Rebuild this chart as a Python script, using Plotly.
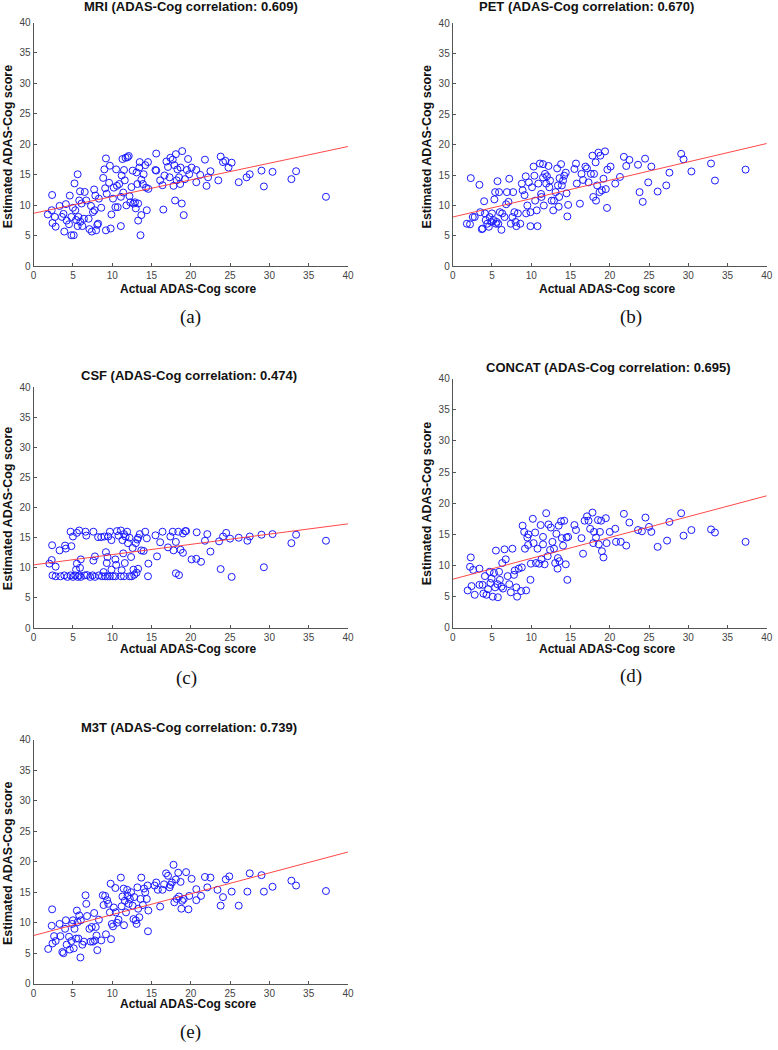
import plotly.graph_objects as go

W, H = 778, 1050

# ---------------- data ----------------
mri_x = [1.8,2.3,2.35,2.4,2.7,2.8,3.3,3.6,3.8,3.9,4.1,4.2,4.5,4.6,4.8,4.8,5.0,5.1,5.2,5.3,5.4,5.6,5.6,5.7,5.8,5.9,5.95,6.1,6.2,6.4,6.5,6.7,7.0,7.1,7.3,7.4,7.55,7.7,7.75,7.85,7.95,8.1,8.2,8.3,8.6,8.85,9.0,9.1,9.2,9.2,9.3,9.6,9.7,9.8,9.9,10.1,10.2,10.4,10.5,10.6,10.7,10.9,11.1,11.1,11.2,11.3,11.4,11.5,11.6,11.7,11.8,11.95,12.1,12.2,12.3,12.45,12.6,12.7,12.9,13.0,13.1,13.2,13.3,13.3,13.45,13.5,13.6,13.7,13.7,13.9,14.0,14.2,14.3,14.4,14.55,14.6,15.6,15.5,15.6,16.1,16.4,16.5,16.65,16.9,17.1,17.3,17.4,17.7,17.8,17.9,18.0,18.1,18.2,18.3,18.5,18.65,18.7,18.85,18.9,19.1,19.25,19.5,19.65,19.8,20.1,20.7,20.7,21.2,21.8,22.0,22.2,22.5,23.5,23.8,24.1,24.4,24.8,25.2,26.1,27.1,27.5,29.0,29.3,30.4,32.8,33.4,37.2]
mri_y = [8.5,9.2,11.7,7.1,8.1,6.5,9.9,8.1,8.6,5.7,10.2,7.5,6.9,11.6,5.1,8.1,9.6,5.1,13.6,9.2,7.6,15.1,6.6,8.1,10.8,12.3,7.3,10.3,6.6,7.8,12.2,10.8,7.8,6.1,9.9,5.7,8.9,12.6,9.2,11.6,5.9,6.8,7.0,11.1,9.6,14.5,15.9,12.8,5.9,17.7,11.9,13.7,16.5,6.2,8.5,11.1,12.9,9.7,15.9,13.2,9.7,13.5,11.4,6.6,14.9,17.6,12.1,15.8,14.1,17.8,10.0,17.9,18.1,11.5,10.5,13.0,15.7,10.3,10.5,9.5,15.4,13.5,10.3,7.5,16.2,17.1,5.1,14.2,8.4,13.5,15.1,16.6,12.9,9.2,17.1,12.7,18.5,15.8,15.7,14.1,13.3,9.3,14.9,17.2,16.3,14.6,17.8,17.5,13.2,16.6,10.8,18.4,14.1,15.9,14.6,13.5,16.2,10.3,18.9,8.4,14.3,15.8,17.6,15.1,16.2,15.8,13.8,15.0,17.5,13.2,14.6,15.6,14.1,18.0,17.1,17.3,16.2,17.0,13.8,14.6,15.1,15.7,13.1,15.5,14.3,15.6,11.4]

pet_x = [1.8,2.2,2.3,2.55,2.8,3.4,3.5,3.7,3.8,4.0,4.1,4.2,4.4,4.6,4.7,4.9,5.0,5.2,5.3,5.4,5.5,5.6,5.7,5.8,5.9,6.0,6.2,6.3,6.6,6.8,6.9,7.1,7.2,7.4,7.6,7.7,7.85,8.0,8.1,8.3,8.6,8.8,8.9,9.15,9.3,9.35,9.5,9.7,9.9,9.9,10.1,10.3,10.4,10.5,10.7,10.8,10.9,11.1,11.25,11.3,11.5,11.5,11.6,11.75,11.9,12.0,12.2,12.3,12.4,12.6,12.8,12.9,13.1,13.3,13.4,13.5,13.55,13.6,13.8,13.9,14.05,14.2,14.4,14.5,14.6,14.7,15.5,15.7,15.8,16.2,16.4,16.6,16.9,17.1,17.3,17.6,17.8,17.9,18.0,18.2,18.25,18.4,18.55,18.7,18.8,19.0,19.2,19.4,19.5,19.65,19.7,20.1,20.7,21.3,21.8,22.1,22.5,23.6,23.8,24.2,24.5,24.9,25.3,26.1,27.2,27.6,29.1,29.4,30.4,32.9,33.4,37.3]
pet_y = [7.0,6.9,14.5,8.1,8.1,13.4,8.9,6.1,6.2,10.7,8.7,7.6,7.0,6.5,8.1,7.3,8.7,7.6,11.0,12.2,7.0,7.3,14.0,7.0,12.2,8.9,6.0,8.7,8.1,10.2,12.2,10.6,14.4,7.0,8.1,12.2,8.9,7.3,6.6,8.7,7.0,13.6,12.5,11.7,14.8,8.7,10.0,13.8,8.9,6.6,13.0,16.4,14.9,10.8,9.2,6.6,13.6,16.9,11.9,11.4,16.8,14.6,10.0,15.2,13.6,14.8,16.5,13.0,14.1,10.8,9.2,10.8,12.2,16.1,13.3,9.8,11.4,14.5,16.8,13.3,14.1,14.9,15.4,12.0,8.2,10.1,16.0,16.9,13.6,10.3,15.2,14.2,16.4,16.1,13.8,15.2,18.2,11.4,15.2,17.1,10.8,13.3,18.7,12.2,18.2,12.5,14.4,18.9,12.7,9.6,15.9,16.4,13.6,14.7,18.0,16.5,17.5,16.7,12.2,10.6,17.7,13.8,16.4,12.3,13.3,15.4,18.5,17.6,15.6,16.9,14.1,15.9]

csf_x = [2.4,2.8,3.4,3.9,4.3,4.7,5.0,5.3,5.6,5.8,6.0,6.5,6.8,7.2,7.5,7.8,8.3,8.7,9.1,9.4,9.7,10.1,10.4,11.1,11.5,12.2,12.5,12.8,13.1,13.3,14.55,18.1,18.5,23.8,25.2,29.3,2.0,2.3,2.35,2.8,3.3,4.0,4.1,4.8,4.7,5.0,5.5,5.5,5.4,5.8,5.9,6.0,6.6,6.7,7.6,7.6,7.8,8.2,8.6,9.0,9.2,9.3,9.4,9.5,9.7,9.9,9.9,10.4,10.6,10.5,10.8,11.1,11.3,11.4,11.5,11.6,11.7,11.9,12.0,12.2,12.4,12.6,13.0,13.2,13.3,13.5,13.7,14.0,14.2,14.4,14.6,15.5,15.7,16.1,16.4,17.1,17.4,17.7,17.8,18.1,18.4,18.7,19.0,19.3,19.4,19.0,20.1,20.75,20.7,21.3,21.8,22.1,22.5,23.6,24.1,24.5,25.0,26.1,27.2,27.5,29.0,30.4,32.8,33.4,37.2,12.7,11.2,8.9]
csf_y = [8.75,8.6,8.6,8.75,8.5,8.75,8.5,8.75,8.5,8.75,8.5,8.75,8.8,8.5,8.75,8.5,8.75,8.6,8.6,8.6,8.6,8.6,8.6,8.6,8.6,8.6,8.6,8.85,9.2,9.85,8.6,9.1,8.8,9.8,8.5,10.1,10.7,11.3,13.75,10.2,12.9,13.7,13.2,13.6,16.0,15.2,15.8,10.7,9.7,16.2,10.0,11.4,16.0,15.35,16.0,11.2,11.9,15.1,15.1,15.2,12.6,10.8,11.8,15.2,16.0,14.6,9.7,11.4,16.1,10.5,15.35,16.2,14.6,12.4,15.6,10.8,15.2,16.0,14.1,15.0,11.8,13.3,14.1,14.7,15.0,15.6,12.9,12.8,16.0,14.9,10.7,15.4,11.9,14.25,16.0,13.4,15.2,16.0,12.9,14.3,16.0,13.0,15.7,16.1,16.1,12.5,11.4,15.9,11.5,11.0,14.5,15.6,12.7,14.4,15.2,15.8,14.85,15.0,14.5,15.2,15.5,15.6,14.1,15.5,14.5,9.7,9.6,9.3]

concat_x = [1.9,2.2,2.3,2.4,2.6,2.8,3.4,3.4,3.8,3.9,4.1,4.3,4.5,4.7,4.8,4.95,5.1,5.25,5.4,5.5,5.7,5.75,5.9,6.0,6.2,6.3,6.4,6.6,6.75,7.0,7.2,7.4,7.6,7.8,7.9,8.1,8.2,8.4,8.7,8.8,8.9,9.1,9.2,9.35,9.5,9.6,9.65,9.9,9.95,10.2,10.3,10.5,10.6,10.8,11.0,11.2,11.3,11.5,11.5,11.7,11.9,12.1,12.2,12.4,12.5,12.7,12.9,13.05,13.2,13.35,13.4,13.5,13.6,13.8,13.9,14.05,14.2,14.4,14.5,14.6,14.7,15.5,15.7,16.4,16.6,16.8,17.1,17.3,17.5,17.8,17.9,18.0,18.25,18.5,18.6,18.75,18.9,19.0,19.2,19.5,19.6,20.0,20.7,20.8,21.4,21.8,22.1,22.5,23.6,24.1,24.55,25.0,25.3,26.1,27.3,27.6,29.1,29.4,30.4,32.9,33.4,37.3]
concat_y = [6.0,9.8,11.3,6.7,9.3,5.3,9.5,6.9,6.9,5.5,8.3,5.3,6.2,9.0,7.2,7.9,5.0,8.8,6.5,12.4,7.0,4.9,9.0,7.7,6.6,10.4,6.3,12.6,11.0,8.3,7.0,5.7,12.7,8.5,9.2,6.5,5.0,9.5,5.9,9.7,16.4,15.4,12.7,6.0,14.5,13.3,15.0,7.7,10.3,17.5,13.6,15.3,10.4,12.7,10.3,16.5,11.0,14.6,13.4,10.2,18.4,11.5,16.6,12.5,16.1,13.8,12.7,10.4,15.1,9.5,11.2,16.4,10.7,17.1,14.4,13.2,17.2,10.2,14.5,7.7,14.6,16.5,15.7,14.4,11.9,17.2,17.9,17.2,15.9,18.5,13.6,15.4,14.5,17.3,13.4,15.4,17.2,12.3,11.3,17.6,13.6,15.4,15.9,13.8,13.8,18.3,13.2,16.9,15.7,15.5,17.7,16.2,15.4,13.0,14.0,17.0,18.4,14.8,15.7,15.8,15.3,13.8]

m3t_x = [1.85,2.3,2.35,2.4,2.6,2.8,3.3,3.4,3.65,3.8,4.0,4.1,4.2,4.5,4.6,4.8,4.9,5.0,5.1,5.2,5.4,5.5,5.6,5.7,5.8,5.95,6.0,6.2,6.4,6.6,6.7,6.8,7.1,7.25,7.4,7.55,7.7,7.8,7.9,8.0,8.1,8.3,8.6,8.8,8.9,9.1,9.2,9.35,9.5,9.7,9.8,9.85,9.95,10.1,10.2,10.4,10.45,10.6,10.8,11.1,11.2,11.3,11.45,11.5,11.6,11.75,11.9,11.95,12.1,12.25,12.4,12.6,12.7,12.8,13.0,13.1,13.2,13.3,13.45,13.6,13.7,13.9,14.05,14.2,14.4,14.5,14.6,14.55,15.4,15.6,15.8,16.1,16.4,16.6,16.85,17.1,17.3,17.4,17.6,17.8,17.9,18.1,18.2,18.4,18.5,18.7,18.8,18.9,19.1,19.4,19.7,19.8,20.1,20.7,20.7,21.3,21.8,22.1,22.5,23.4,23.8,24.1,24.45,24.9,25.2,26.1,27.2,27.5,29.0,29.3,30.4,32.8,33.4,37.2]
m3t_y = [5.7,9.5,12.2,6.6,7.8,7.0,9.8,7.8,5.2,5.0,9.0,10.4,6.4,7.7,5.6,7.0,9.8,10.4,5.8,9.0,7.4,12.0,10.1,7.4,11.2,4.3,10.4,6.4,6.9,14.5,13.1,11.1,9.0,6.9,9.3,6.9,11.6,7.1,9.3,7.9,5.5,10.5,7.1,14.5,12.9,14.4,8.1,13.7,13.1,11.7,16.4,7.3,9.8,9.4,12.5,15.7,11.7,10.0,10.5,17.4,12.7,14.3,15.6,9.6,13.6,11.7,15.4,14.4,13.1,13.9,15.0,12.8,10.6,14.2,10.4,9.8,15.8,12.3,10.9,13.9,17.4,12.9,15.6,15.0,13.9,16.1,12.0,8.6,16.1,16.6,15.4,12.65,15.4,16.3,18.1,17.7,15.8,16.2,16.6,19.5,13.35,17.1,13.9,18.2,14.3,16.7,12.3,13.6,13.9,18.3,12.2,14.4,17.2,15.5,13.7,14.4,17.5,15.8,17.4,15.4,12.8,14.2,17.1,17.6,15.1,12.8,15.1,18.1,17.8,15.1,15.9,16.9,16.1,15.2]

# regression lines: fitted value at actual score 0 and 40
fit_x = [0, 40]
fit_y = {
    "MRI": [8.7, 19.65],
    "PET": [8.1, 20.2],
    "CSF": [10.5, 17.3],
    "CONCAT": [7.8, 21.2],
    "M3T": [7.9, 21.6],
}

panels = [
    ("MRI", "0.609", mri_x, mri_y, "(a)"),
    ("PET", "0.670", pet_x, pet_y, "(b)"),
    ("CSF", "0.474", csf_x, csf_y, "(c)"),
    ("CONCAT", "0.695", concat_x, concat_y, "(d)"),
    ("M3T", "0.739", m3t_x, m3t_y, "(e)"),
]
axis_ticks = [0, 5, 10, 15, 20, 25, 30, 35, 40]

# ---------------- layout geometry (pixels) ----------------
# (left, right, top, bottom) of plot areas
boxes = [
    (31, 349, 16.7, 263.3),
    (455, 772.7, 17.3, 263.3),
    (31, 349, 385.5, 629.3),
    (455, 772.7, 377, 629),
    (31, 349, 742.3, 989),
]
title_pos = [(190, 1), (590, 1), (188, 374), (613, 366), (188, 730)]
xlab_pos = [(188, 286), (612, 286), (188, 650), (612, 650), (188, 1010)]
ylab_pos = [(5, 142), (429, 142), (5, 508), (429, 503), (5, 867)]
tag_pos = [(190, 315), (635, 315), (186, 680), (635, 678), (190, 1038)]

def px(x):
    return x / W

def py(y):
    return 1 - y / H

fig = go.Figure()
layout = dict(
    width=W, height=H,
    margin=dict(l=0, r=0, t=0, b=0),
    paper_bgcolor="white", plot_bgcolor="white",
    showlegend=False,
    font=dict(family="Liberation Sans, Arial, sans-serif", color="#222"),
)
annotations = []
axcolor = "#555555"

for i, (name, corr, xs, ys, tag) in enumerate(panels):
    n = "" if i == 0 else str(i + 1)
    xa, ya = "x" + n, "y" + n
    l, r, t, b = boxes[i]
    fig.add_trace(go.Scatter(
        x=xs, y=ys, mode="markers", xaxis=xa, yaxis=ya,
        marker=dict(symbol="circle-open", size=7, color="#1a1aff",
                    line=dict(width=1, color="#1a1aff")),
        hoverinfo="skip",
    ))
    fig.add_trace(go.Scatter(
        x=fit_x, y=fit_y[name], mode="lines", xaxis=xa, yaxis=ya,
        line=dict(color="rgba(255,40,40,0.85)", width=1),
        hoverinfo="skip",
    ))
    common = dict(
        showgrid=False, zeroline=False, showline=True, linecolor=axcolor,
        linewidth=1, ticks="inside", ticklen=3, tickcolor=axcolor,
        tickfont=dict(size=10, color="#444", family="Liberation Sans, Arial"),
        tickmode="array", tickvals=axis_ticks,
        ticktext=[str(v) for v in axis_ticks], range=[0, 40],
        fixedrange=True,
    )
    layout["xaxis" + n] = dict(common, domain=[px(l), px(r)], anchor=ya)
    layout["yaxis" + n] = dict(common, domain=[py(b), py(t)], anchor=xa)

    tx, ty = title_pos[i]
    annotations.append(dict(
        text=f"<b>{name} (ADAS-Cog correlation: {corr})</b>",
        x=px(tx), y=py(ty), xref="paper", yref="paper",
        xanchor="center", yanchor="middle", showarrow=False,
        font=dict(size=13, color="#111", family="Liberation Sans, Arial")))
    lx, ly = xlab_pos[i]
    annotations.append(dict(
        text="<b>Actual ADAS-Cog score</b>",
        x=px(lx), y=py(ly), xref="paper", yref="paper",
        xanchor="center", yanchor="middle", showarrow=False,
        font=dict(size=12, color="#111", family="Liberation Sans, Arial")))
    yx, yy = ylab_pos[i]
    annotations.append(dict(
        text="<b>Estimated ADAS-Cog score</b>", textangle=-90,
        x=px(yx), y=py(yy), xref="paper", yref="paper",
        xanchor="center", yanchor="middle", showarrow=False,
        font=dict(size=12.5, color="#111", family="Liberation Sans, Arial")))
    gx, gy = tag_pos[i]
    annotations.append(dict(
        text=tag, x=px(gx), y=py(gy), xref="paper", yref="paper",
        xanchor="center", yanchor="middle", showarrow=False,
        font=dict(size=19, color="#111",
                  family="Liberation Serif, Times New Roman, serif")))

layout["annotations"] = annotations
fig.update_layout(**layout)
fig.write_html(
    "out.html",
    config={"displayModeBar": False},
    post_script="document.body.style.margin='0px';document.body.style.overflow='hidden';",
)
